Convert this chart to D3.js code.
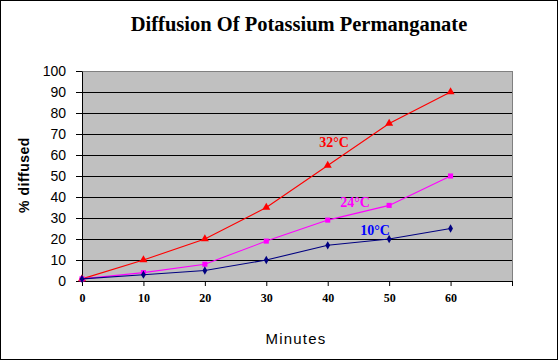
<!DOCTYPE html>
<html>
<head>
<meta charset="utf-8">
<script src="https://cdn.jsdelivr.net/npm/d3@7/dist/d3.min.js"></script>
<style>
  html, body { margin: 0; padding: 0; background: #fff; }
  svg { display: block; }
</style>
</head>
<body>
<svg id="chart" width="560" height="361"></svg>
<script>
const minutes = [0, 10, 20, 30, 40, 50, 60];
const temp32 = [1, 10, 20, 35, 55, 75, 90];
const temp24 = [1, 4, 8, 19, 29, 36, 50];
const temp10 = [1, 3, 5, 10, 17, 20, 25];
const xTicks = [0, 10, 20, 30, 40, 50, 60, 70];
const yTicks = [0, 10, 20, 30, 40, 50, 60, 70, 80, 90, 100];
const seriesNames = ["32°C", "24°C", "10°C"];

const svg = d3.select("#chart");
svg.append("rect").attr("x", 0.5).attr("y", 0.5).attr("width", 557).attr("height", 359)
  .attr("fill", "#fff").attr("stroke", "#000").attr("stroke-width", 1);

const x = d3.scaleLinear().domain([0, 70]).range([82, 512]);
const y = d3.scaleLinear().domain([0, 100]).range([281, 71]);

// plot area
svg.append("rect")
  .attr("x", x(0)).attr("y", y(100))
  .attr("width", x(70) - x(0)).attr("height", y(0) - y(100))
  .attr("fill", "#C0C0C0").attr("stroke", "#808080").attr("stroke-width", 1)
  .attr("shape-rendering", "crispEdges");

// gridlines
svg.append("g").selectAll("line").data(yTicks.filter(d => d > 0 && d < 100)).join("line")
  .attr("x1", x(0)).attr("x2", x(70))
  .attr("y1", d => Math.round(y(d)) + 0.5).attr("y2", d => Math.round(y(d)) + 0.5)
  .attr("stroke", "#000").attr("stroke-width", 1);

// axes
const yAxis = svg.append("g").attr("transform", `translate(${x(0)},0)`)
  .call(d3.axisLeft(y).tickValues(yTicks).tickSize(6).tickPadding(10).tickSizeOuter(0));
yAxis.selectAll("text").attr("font-family", "Arial, 'Liberation Sans', sans-serif")
  .attr("font-size", 14).attr("fill", "#000");
yAxis.selectAll("line, path").attr("stroke", "#000");

const xAxis = svg.append("g").attr("transform", `translate(0,${y(0)})`)
  .call(d3.axisBottom(x).tickValues(xTicks).tickSize(5).tickPadding(7).tickSizeOuter(0)
    .tickFormat(d => d === 70 ? "" : d));
xAxis.selectAll("text").attr("font-family", "'Times New Roman', 'Liberation Serif', serif")
  .attr("font-size", 12).attr("font-weight", "bold").attr("fill", "#000");
xAxis.selectAll("line, path").attr("stroke", "#000");

// series
const series = [
  { name: seriesNames[0], values: temp32, color: "#FF0000", shape: d3.symbolTriangle, size: 28, label: [334, 147], labelColor: "#FF0000" },
  { name: seriesNames[1], values: temp24, color: "#FF00FF", shape: d3.symbolSquare, size: 26, label: [355, 207], labelColor: "#FF00FF" },
  { name: seriesNames[2], values: temp10, color: "#000080", shape: d3.symbolDiamond, size: 20, label: [375, 235], labelColor: "#0000FF" }
];

const line = d3.line().x((d, i) => x(minutes[i])).y(d => y(d));
series.forEach(s => {
  svg.append("path").datum(s.values).attr("d", line)
    .attr("fill", "none").attr("stroke", s.color).attr("stroke-width", 1.1);
  svg.append("g").selectAll("path").data(s.values).join("path")
    .attr("transform", (d, i) => `translate(${x(minutes[i])},${y(d)})`)
    .attr("d", d3.symbol().type(s.shape).size(s.size))
    .attr("fill", s.color);
  svg.append("text").attr("x", s.label[0]).attr("y", s.label[1])
    .attr("text-anchor", "middle")
    .attr("font-family", "'Times New Roman', 'Liberation Serif', serif")
    .attr("font-weight", "bold").attr("font-size", 14)
    .attr("fill", s.labelColor).text(s.name);
});

// title
svg.append("text").attr("x", 299).attr("y", 31).attr("text-anchor", "middle")
  .attr("font-family", "'Times New Roman', 'Liberation Serif', serif")
  .attr("font-weight", "bold").attr("font-size", 20.5).attr("fill", "#000")
  .text("Diffusion Of Potassium Permanganate");

// axis titles
svg.append("text").attr("x", 296).attr("y", 344).attr("text-anchor", "middle")
  .attr("font-family", "Arial, 'Liberation Sans', sans-serif")
  .attr("font-size", 15).attr("letter-spacing", 1.2).attr("fill", "#000")
  .text("Minutes");

svg.append("text").attr("transform", "translate(29,175) rotate(-90)")
  .attr("text-anchor", "middle")
  .attr("font-family", "Arial, 'Liberation Sans', sans-serif")
  .attr("font-weight", "bold").attr("font-size", 14).attr("letter-spacing", 0.5).attr("fill", "#000")
  .text("% diffused");
</script>
</body>
</html>
